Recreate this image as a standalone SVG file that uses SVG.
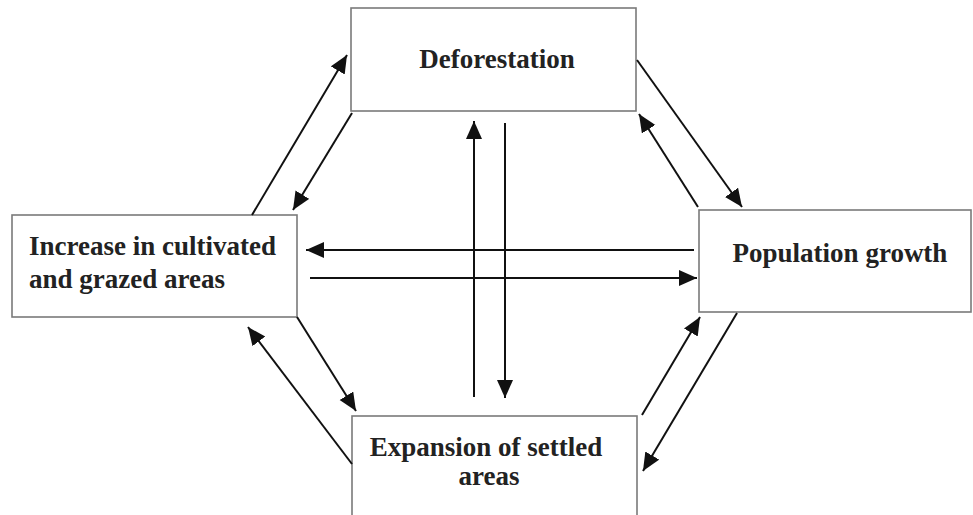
<svg xmlns="http://www.w3.org/2000/svg" width="973" height="515" viewBox="0 0 973 515">
<style>
.box{fill:#fff;stroke:#7a7a7a;stroke-width:1.6}
.lbl{font-family:"Liberation Serif","Times New Roman",serif;font-weight:bold;font-size:27px;fill:#222}
.c{stroke:#111;stroke-width:2;fill:none;marker-end:url(#ah)}
</style>
<defs>
<marker id="ah" markerUnits="userSpaceOnUse" markerWidth="19" markerHeight="17" refX="18" refY="8" orient="auto">
<path d="M0,0 L18,8 L0,16 z" fill="#111"/>
</marker>
</defs>
<rect width="973" height="515" fill="#fff"/>
<g id="deforestation">
<rect class="box" x="351" y="8" width="285" height="103"/>
<text class="lbl" x="497" y="68" text-anchor="middle">Deforestation</text>
</g>
<g id="cultivated">
<rect class="box" x="12" y="215" width="285" height="102"/>
<text class="lbl" x="29" y="255">Increase in cultivated</text>
<text class="lbl" x="29" y="288">and grazed areas</text>
</g>
<g id="population">
<rect class="box" x="699" y="210" width="272" height="102"/>
<text class="lbl" x="840" y="262" text-anchor="middle">Population growth</text>
</g>
<g id="settled">
<rect class="box" x="352" y="416" width="285" height="120"/>
<text class="lbl" x="486" y="456" text-anchor="middle">Expansion of settled</text>
<text class="lbl" x="489" y="485" text-anchor="middle">areas</text>
</g>
<g id="connectors">
<line class="c" x1="252" y1="215" x2="347" y2="55"/>
<line class="c" x1="352" y1="113" x2="293" y2="210"/>
<line class="c" x1="637" y1="60" x2="742" y2="207"/>
<line class="c" x1="698" y1="207" x2="639" y2="114"/>
<line class="c" x1="694" y1="250" x2="306" y2="250"/>
<line class="c" x1="310" y1="278" x2="697" y2="278"/>
<line class="c" x1="474" y1="397" x2="474" y2="121"/>
<line class="c" x1="505" y1="123" x2="505" y2="398"/>
<line class="c" x1="297" y1="317" x2="356" y2="411"/>
<line class="c" x1="352" y1="464" x2="248" y2="327"/>
<line class="c" x1="642" y1="415" x2="700" y2="317"/>
<line class="c" x1="737" y1="313" x2="643" y2="471"/>
</g>
</svg>
